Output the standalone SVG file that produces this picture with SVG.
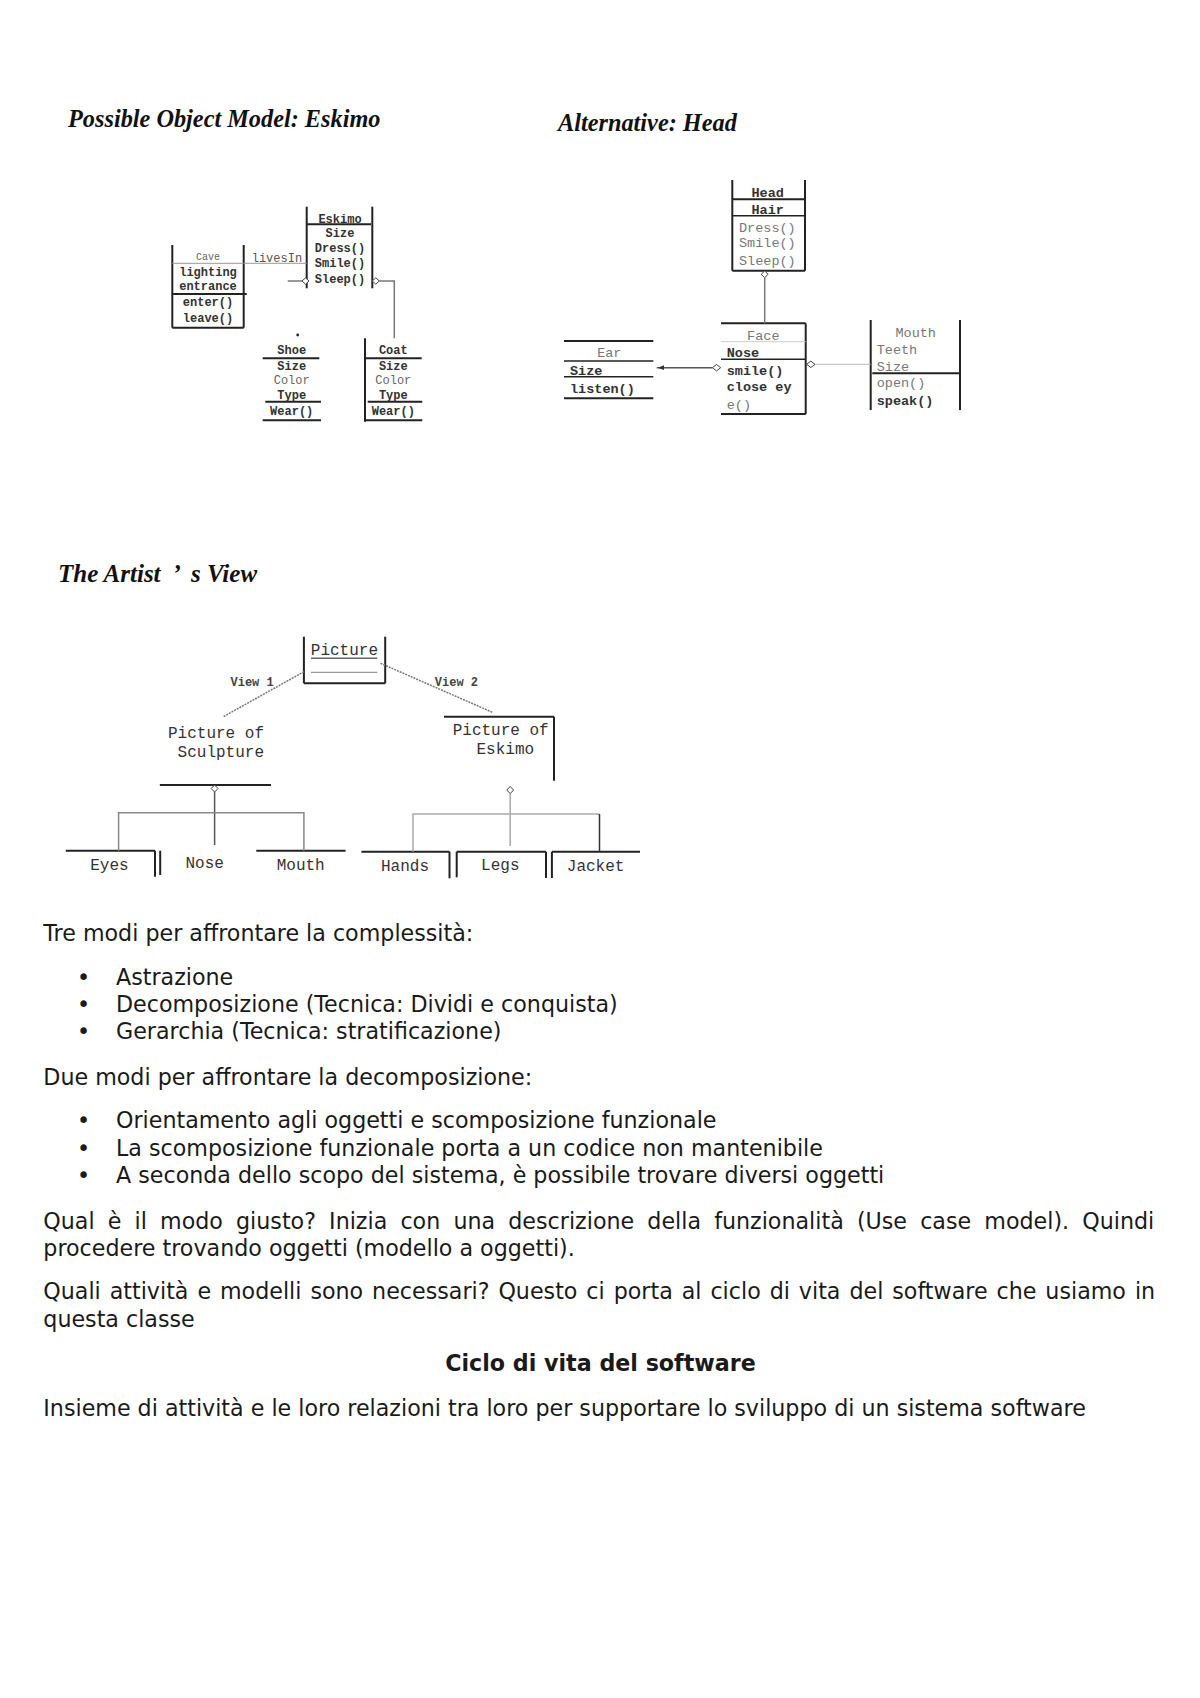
<svg xmlns="http://www.w3.org/2000/svg" width="1200" height="1698" viewBox="0 0 1200 1698">
<style>
.title{font-family:"Liberation Serif","Times New Roman",serif;font-size:24.3px;font-weight:bold;font-style:italic;fill:#111}
.e{font-family:"Liberation Mono","Courier New",monospace;font-size:12px;font-weight:bold;fill:#333}
.ef{font-family:"Liberation Mono","Courier New",monospace;font-size:12px;fill:#666}
.h{font-family:"Liberation Mono","Courier New",monospace;font-size:13.5px;font-weight:bold;fill:#333}
.hf{font-family:"Liberation Mono","Courier New",monospace;font-size:13.5px;fill:#777}
.a{font-family:"Liberation Mono","Courier New",monospace;font-size:16px;fill:#333}
.lbl{font-family:"Liberation Mono","Courier New",monospace;font-size:12px;font-weight:bold;fill:#444}
.c{text-anchor:middle}
.box line{stroke:#222;stroke-width:2}
line.thin{stroke:#999;stroke-width:1}
.body{font-family:"DejaVu Sans",sans-serif;font-size:22.2px;fill:#1a1a1a}
.bold{font-weight:bold}
.conn line,.conn polyline{stroke:#777;stroke-width:1.5;fill:none}
.dia{fill:#fff;stroke:#444;stroke-width:1}
.dash{stroke:#666;stroke-width:1.2;stroke-dasharray:2 1}
</style>

<!-- Titles -->
<text class="title" x="68" y="127">Possible Object Model: Eskimo</text>
<text class="title" x="558" y="130.5">Alternative: Head</text>
<text class="title" x="58" y="581.5" style="font-size:25px">The Artist<tspan dx="12">’</tspan><tspan dx="12">s View</tspan></text>

<!-- ===== Eskimo model ===== -->
<g id="eskimo" class="box">
  <line x1="306.7" y1="206.7" x2="306.7" y2="288.3"/>
  <line x1="372.3" y1="206.7" x2="372.3" y2="288.3"/>
  <line x1="306.7" y1="224.3" x2="371" y2="224.3"/>
  <text class="e c" x="340" y="222.5">Eskimo</text>
  <text class="e c" x="340" y="237">Size</text>
  <text class="e c" x="340" y="252">Dress()</text>
  <text class="e c" x="340" y="266.5">Smile()</text>
  <text class="e c" x="340" y="282.5">Sleep()</text>
</g>
<g id="cave" class="box">
  <line x1="172.3" y1="245" x2="172.3" y2="327.7"/>
  <line x1="243.7" y1="245" x2="243.7" y2="327.7"/>
  <line x1="172.3" y1="327.7" x2="243.7" y2="327.7"/>
  <line x1="172.3" y1="294" x2="246.7" y2="294"/>
  <line class="thin" x1="172.3" y1="263.3" x2="243.7" y2="263.3"/>
  <text class="ef c" x="208" y="260" style="font-size:10px">Cave</text>
  <text class="e c" x="208" y="276">lighting</text>
  <text class="e c" x="208" y="290">entrance</text>
  <text class="e c" x="208" y="305.5">enter()</text>
  <text class="e c" x="208" y="321.5">leave()</text>
</g>
<g id="shoe" class="box">
  <circle cx="297.7" cy="335" r="1.4" fill="#222"/>
  <line x1="262.7" y1="358.3" x2="319.3" y2="358.3"/>
  <line x1="265.3" y1="401.7" x2="321" y2="401.7"/>
  <line x1="262.7" y1="420.3" x2="321" y2="420.3"/>
  <text class="e c" x="291.7" y="354">Shoe</text>
  <text class="e c" x="291.7" y="369.7">Size</text>
  <text class="ef c" x="291.7" y="383.5">Color</text>
  <text class="e c" x="291.7" y="399">Type</text>
  <text class="e c" x="291.7" y="415">Wear()</text>
</g>
<g id="coat" class="box">
  <line x1="365" y1="338.3" x2="365" y2="421.7"/>
  <line x1="365" y1="358.3" x2="421.7" y2="358.3"/>
  <line x1="367.7" y1="401.7" x2="422.3" y2="401.7"/>
  <line x1="365" y1="420.3" x2="422.3" y2="420.3"/>
  <text class="e c" x="393.3" y="354">Coat</text>
  <text class="e c" x="393.3" y="369.7">Size</text>
  <text class="ef c" x="393.3" y="383.5">Color</text>
  <text class="e c" x="393.3" y="399">Type</text>
  <text class="e c" x="393.3" y="415">Wear()</text>
</g>

<!-- ===== Head model ===== -->
<g id="head" class="box">
  <line x1="732.3" y1="180" x2="732.3" y2="270.7"/>
  <line x1="805" y1="180" x2="805" y2="270.7"/>
  <line x1="732.3" y1="270.7" x2="805" y2="270.7"/>
  <line x1="732.3" y1="199.3" x2="805" y2="199.3"/>
  <line x1="732.3" y1="215.7" x2="805" y2="215.7" style="stroke-width:1.5"/>
  <text class="h c" x="767.7" y="197">Head</text>
  <text class="h c" x="767.7" y="213.5">Hair</text>
  <text class="hf" x="739" y="231.8">Dress()</text>
  <text class="hf" x="739" y="247.2">Smile()</text>
  <text class="hf" x="739" y="264.5">Sleep()</text>
</g>
<g id="face" class="box">
  <line x1="721" y1="323.3" x2="805.7" y2="323.3"/>
  <line x1="805.7" y1="323.3" x2="805.7" y2="414"/>
  <line x1="721" y1="414" x2="805.7" y2="414"/>
  <line x1="721" y1="341.7" x2="805.7" y2="341.7" style="stroke:#ccc;stroke-width:1"/>
  <line x1="721" y1="359.3" x2="805.7" y2="359.3" style="stroke-width:1.5"/>
  <text class="hf c" x="763.3" y="339.5">Face</text>
  <text class="h" x="726.7" y="357">Nose</text>
  <text class="h" x="726.7" y="374.5">smile()</text>
  <text class="h" x="726.7" y="391">close ey</text>
  <text class="hf" x="726.7" y="409">e()</text>
</g>
<g id="ear" class="box">
  <line x1="564" y1="341" x2="653.3" y2="341"/>
  <line x1="564" y1="361" x2="653.3" y2="361" style="stroke-width:1.5"/>
  <line x1="564" y1="376.7" x2="653.3" y2="376.7" style="stroke-width:1.5"/>
  <line x1="564" y1="398.3" x2="653.3" y2="398.3"/>
  <text class="hf c" x="609.3" y="357">Ear</text>
  <text class="h" x="570" y="374.5">Size</text>
  <text class="h" x="570" y="392.5">listen()</text>
</g>
<g id="mouth" class="box">
  <line x1="870.7" y1="320" x2="870.7" y2="410"/>
  <line x1="960" y1="320" x2="960" y2="410"/>
  <line x1="872.3" y1="373.3" x2="959" y2="373.3"/>
  <text class="hf c" x="915.7" y="337">Mouth</text>
  <text class="hf" x="876.7" y="353.5">Teeth</text>
  <text class="hf" x="876.7" y="370.5">Size</text>
  <text class="hf" x="876.7" y="386.5">open()</text>
  <text class="h" x="876.7" y="404.5">speak()</text>
</g>

<!-- ===== Artist's view ===== -->
<g id="picture" class="box">
  <line x1="303.9" y1="636.7" x2="303.9" y2="683.3"/>
  <line x1="385.2" y1="636.7" x2="385.2" y2="683.3"/>
  <line x1="303.9" y1="683.3" x2="385.2" y2="683.3"/>
  <line x1="311" y1="658.3" x2="377.3" y2="658.3" style="stroke:#666;stroke-width:1.5"/>
  <line x1="311" y1="672.3" x2="377.3" y2="672.3" style="stroke:#999;stroke-width:1.2"/>
  <text class="a c" x="344.4" y="654.5">Picture</text>
</g>
<g id="picture-of-sculpture" class="box">
  <text class="a" x="168" y="737.5">Picture of</text>
  <text class="a" x="177.6" y="756.5">Sculpture</text>
  <line x1="159.8" y1="785" x2="271" y2="785"/>
</g>
<g id="picture-of-eskimo" class="box">
  <line x1="444" y1="716.7" x2="554" y2="716.7"/>
  <line x1="554" y1="716.7" x2="554" y2="780.7"/>
  <text class="a" x="452.7" y="735">Picture of</text>
  <text class="a" x="476.5" y="754">Eskimo</text>
</g>
<g id="eyes" class="box">
  <line x1="65.8" y1="850.7" x2="155" y2="850.7"/>
  <line x1="155" y1="850.7" x2="155" y2="876.7"/>
  <text class="a c" x="109.4" y="869.5">Eyes</text>
</g>
<g id="nose" class="box">
  <line x1="160.2" y1="850.7" x2="160.2" y2="875"/>
  <text class="a c" x="204.7" y="868">Nose</text>
</g>
<g id="mouth2" class="box">
  <line x1="256.3" y1="850.7" x2="345.6" y2="850.7"/>
  <text class="a c" x="300.7" y="869.5">Mouth</text>
</g>
<g id="hands" class="box">
  <line x1="361.4" y1="851.7" x2="449.5" y2="851.7"/>
  <line x1="449.5" y1="851.7" x2="449.5" y2="878.3"/>
  <text class="a c" x="405" y="870.5">Hands</text>
</g>
<g id="legs" class="box">
  <line x1="456.7" y1="851.7" x2="456.7" y2="877.3"/>
  <line x1="456.7" y1="851.7" x2="546" y2="851.7"/>
  <line x1="546" y1="851.7" x2="546" y2="878"/>
  <text class="a c" x="500.3" y="870">Legs</text>
</g>
<g id="jacket" class="box">
  <line x1="551.9" y1="851.7" x2="551.9" y2="878"/>
  <line x1="551.9" y1="851.7" x2="640" y2="851.7"/>
  <text class="a c" x="595.6" y="870.5">Jacket</text>
</g>

<!-- ===== Connectors ===== -->
<g id="connectors" class="conn">
  <!-- Eskimo model -->
  <line x1="243.7" y1="263.3" x2="306.7" y2="263.3" style="stroke:#999;stroke-width:1"/>
  <text class="e" x="251.7" y="261.5" style="fill:#555;font-weight:normal">livesIn</text>
  <line x1="287.7" y1="281" x2="302" y2="281"/>
  <path class="dia" d="M302,281 L305.5,277.8 L309,281 L305.5,284.2 Z"/>
  <polyline points="379.3,281 394.3,281 394.3,338.3"/>
  <path class="dia" d="M372.3,281 L375.8,277.8 L379.3,281 L375.8,284.2 Z"/>
  <!-- Head model -->
  <line x1="764.7" y1="277.6" x2="764.7" y2="323.3"/>
  <path class="dia" d="M764.7,271 L768.2,274.3 L764.7,277.6 L761.2,274.3 Z"/>
  <line x1="656.7" y1="367.7" x2="712.3" y2="367.7" style="stroke:#555"/>
  <path d="M658,367.7 L664,365.3 L664,370.1 Z" fill="#333"/>
  <path class="dia" d="M712.3,367.7 L716.5,364.5 L720.7,367.7 L716.5,370.9 Z"/>
  <line x1="815" y1="364.3" x2="870.7" y2="364.3" style="stroke:#bbb;stroke-width:1"/>
  <path class="dia" d="M806.7,364.3 L810.8,361.1 L815,364.3 L810.8,367.5 Z"/>
  <!-- Artist's view -->
  <line class="dash" x1="304" y1="671.7" x2="223.3" y2="716.7"/>
  <text class="lbl" x="230.5" y="685.5">View 1</text>
  <line class="dash" x1="380.5" y1="663.3" x2="492.4" y2="712.3"/>
  <text class="lbl" x="434.8" y="686">View 2</text>
  <line x1="214.6" y1="792" x2="214.6" y2="845" style="stroke:#555"/>
  <path class="dia" d="M214.6,785 L218,788.5 L214.6,792 L211.2,788.5 Z"/>
  <polyline points="118.6,850.7 118.6,812.7 303.9,812.7 303.9,850.7" style="stroke:#888"/>
  <line x1="510.2" y1="793.5" x2="510.2" y2="846" style="stroke:#aaa"/>
  <path class="dia" d="M510.2,786.5 L513.6,790 L510.2,793.5 L506.8,790 Z"/>
  <polyline points="413,851.7 413,814 599.5,814" style="stroke:#aaa"/>
  <line x1="599.5" y1="814" x2="599.5" y2="851.7" style="stroke:#333"/>
</g>

<!-- ===== Body text ===== -->
<g id="body-text" class="body">
  <text x="43.3" y="941">Tre modi per affrontare la complessità:</text>
  <text x="83.5" y="985" text-anchor="middle">•</text>
  <text x="116" y="985">Astrazione</text>
  <text x="83.5" y="1012" text-anchor="middle">•</text>
  <text x="116" y="1012">Decomposizione (Tecnica: Dividi e conquista)</text>
  <text x="83.5" y="1039" text-anchor="middle">•</text>
  <text x="116" y="1039">Gerarchia (Tecnica: stratificazione)</text>
  <text x="43.3" y="1085">Due modi per affrontare la decomposizione:</text>
  <text x="83.5" y="1128" text-anchor="middle">•</text>
  <text x="116" y="1128">Orientamento agli oggetti e scomposizione funzionale</text>
  <text x="83.5" y="1156" text-anchor="middle">•</text>
  <text x="116" y="1156">La scomposizione funzionale porta a un codice non mantenibile</text>
  <text x="83.5" y="1183" text-anchor="middle">•</text>
  <text x="116" y="1183">A seconda dello scopo del sistema, è possibile trovare diversi oggetti</text>
  <text x="43.3" y="1229" word-spacing="6.1">Qual è il modo giusto? Inizia con una descrizione della funzionalità (Use case model). Quindi</text>
  <text x="43.3" y="1256">procedere trovando oggetti (modello a oggetti).</text>
  <text x="43.3" y="1299" word-spacing="1.9">Quali attività e modelli sono necessari? Questo ci porta al ciclo di vita del software che usiamo in</text>
  <text x="43.3" y="1327">questa classe</text>
  <text class="bold" x="600.5" y="1371" text-anchor="middle">Ciclo di vita del software</text>
  <text x="43.3" y="1416">Insieme di attività e le loro relazioni tra loro per supportare lo sviluppo di un sistema software</text>
</g>
</svg>
